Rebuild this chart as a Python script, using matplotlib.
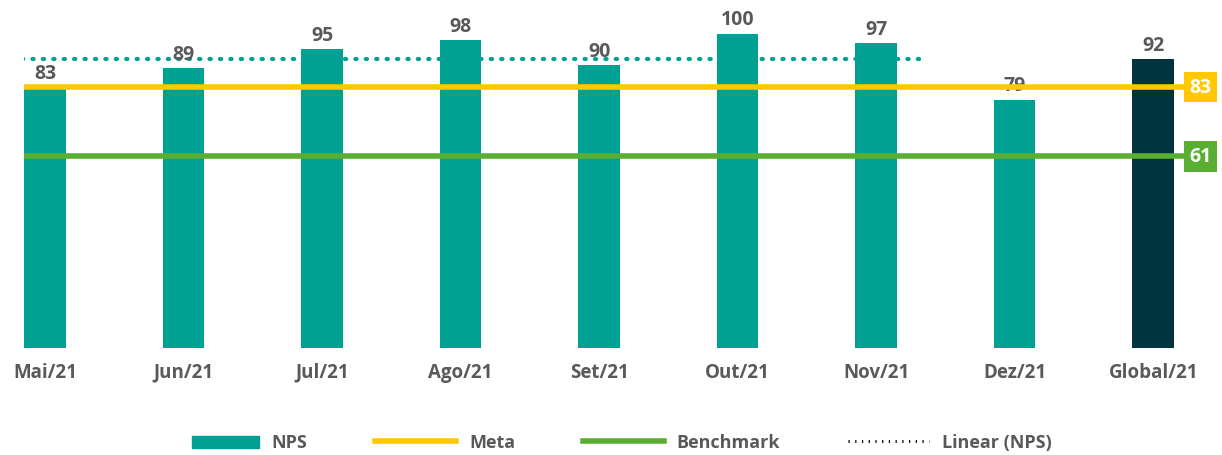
import numpy as np
import matplotlib.pyplot as plt
from matplotlib.patches import Patch, Rectangle
from matplotlib.lines import Line2D
from matplotlib.legend_handler import HandlerPatch

plt.rcParams['font.family'] = ['Open Sans', 'DejaVu Sans']

months = ['Mai/21', 'Jun/21', 'Jul/21', 'Ago/21', 'Set/21', 'Out/21', 'Nov/21', 'Dez/21', 'Global/21']
nps = [83, 89, 95, 98, 90, 100, 97, 79, 92]
meta = 83
benchmark = 61
trend_x = [-0.17, 6.32]
trend_y = [92, 92]

teal = '#00A192'
dark = '#003540'
yellow = '#FFC800'
green = '#5AAE32'
gray = '#595959'

fig = plt.figure(figsize=(12.22, 4.56), dpi=100)
ax = fig.add_axes([24 / 1222, 107 / 456, (1185 - 24) / 1222, 349 / 456])

x = np.arange(len(months))
colors = [teal] * (len(months) - 1) + [dark]
bars = ax.bar(x, nps, width=0.30, color=colors, zorder=2)

for xi, v in zip(x, nps):
    ax.annotate(str(v), (xi, v), xytext=(0, 3), textcoords='offset points',
                ha='center', va='bottom', fontsize=14, fontweight='bold', color=gray)

ax.axhline(meta, color=yellow, lw=4, zorder=3)
ax.axhline(benchmark, color=green, lw=4, zorder=3)
ax.plot(trend_x, trend_y, color=teal, lw=3, linestyle=(0, (0.3, 2.2)),
        dash_capstyle='round', zorder=1)

for val, c in [(meta, yellow), (benchmark, green)]:
    ax.annotate(str(val), (1.0, val), xycoords=('axes fraction', 'data'),
                xytext=(3, 0), textcoords='offset points',
                ha='left', va='center', fontsize=14, fontweight='bold', color='white',
                bbox=dict(boxstyle='square,pad=0.28', fc=c, ec='none'),
                annotation_clip=False)

ax.set_xlim(-0.152, 8.23)
ax.set_ylim(0, 111)
ax.set_xticks(x)
ax.set_xticklabels(months, fontsize=13.5, fontweight='bold', color=gray)
ax.tick_params(axis='x', length=0, pad=10)
ax.set_yticks([])
for s in ax.spines.values():
    s.set_visible(False)


# narrower patch in the legend, like the original
def short_patch(legend, orig_handle, xdescent, ydescent, width, height, fontsize):
    w = width * 0.82
    return Rectangle((width - w - xdescent, -ydescent - height * 0.05), w, height * 0.9)


handles = [Patch(color=teal),
           Line2D([], [], color=yellow, lw=4),
           Line2D([], [], color=green, lw=4),
           Line2D([], [], color='black', lw=2.2, linestyle=(0, (0.4, 1.8)))]
labels = ['NPS', 'Meta', 'Benchmark', 'Linear (NPS)']
leg = fig.legend(handles, labels, loc='center', bbox_to_anchor=(0.503, 0.028), ncol=4,
                 frameon=False, handlelength=4.5, columnspacing=3.75, handletextpad=0.7,
                 prop={'size': 13, 'weight': 'bold'},
                 handler_map={Patch: HandlerPatch(patch_func=short_patch)})
for t in leg.get_texts():
    t.set_color(gray)

fig.savefig('out.png', dpi=100)
